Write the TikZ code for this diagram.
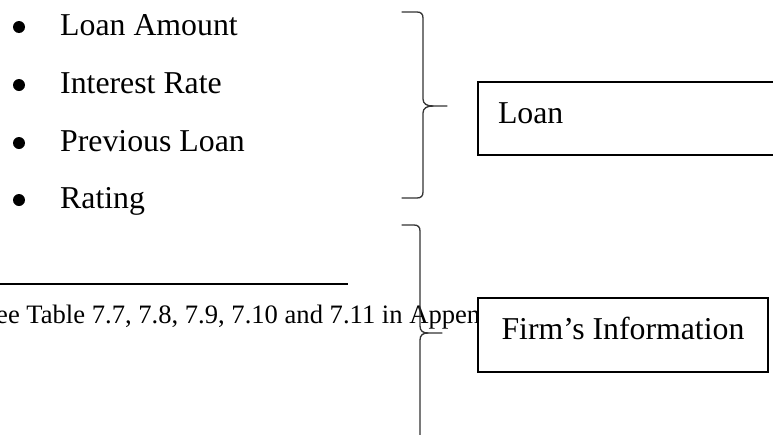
\documentclass[tikz,border=0pt]{standalone}
\usepackage{fontspec}
\setmainfont{Liberation Serif}
\begin{document}
\begin{tikzpicture}[x=1pt,y=-1pt,
  bodytext/.style={font=\fontsize{31.8}{38}\selectfont, inner sep=0pt, anchor=base west},
  notetext/.style={font=\fontsize{26.6}{32}\selectfont, inner sep=0pt, anchor=base west},
  bulletdot/.style={fill=black, draw=none},
  bracepen/.style={draw=black!80, line width=1.3pt, line cap=round, line join=round},
  labelbox/.style={draw=black, fill=white, line width=2pt, rectangle, inner ysep=0pt,
    font=\fontsize{31.8}{38}\selectfont, text height=21pt}
]
\useasboundingbox (0,0) rectangle (773,434);

% bulleted list of loan variables
\foreach \yb/\name/\txt in {35/amount/Loan Amount, 93/rate/Interest Rate, 151/prev/Previous Loan, 208/rating/Rating}{
  \fill[bulletdot] (19,\yb-8) circle (6);
  \node[bodytext] (\name) at (60,\yb) {\txt};
}

% footnote separator and footnote line
\draw[line width=1.6pt] (0,284) coordinate (rulestart) -- (348,284) coordinate (ruleend);
\node[notetext] (note) at (-4,323) {ee Table 7.7, 7.8, 7.9, 7.10 and 7.11 in Appen};

% brace grouping the list
\coordinate (b1tip) at (447,106);
\draw[bracepen] (402,12) -- (417,12) .. controls (421,12) and (423,14) .. (423,18)
  -- (423,99) .. controls (423,104) and (427,106) .. (433,106) -- (b1tip);
\draw[bracepen] (433,106) .. controls (427,106) and (423,108) .. (423,113)
  -- (423,192) .. controls (423,196) and (421,198) .. (417,198) -- (402,198);

% brace grouping the firm variables
\coordinate (b2tip) at (442,333);
\draw[bracepen] (402,225) -- (414,225) .. controls (418,225) and (420,227) .. (420,231)
  -- (420,326) .. controls (420,331) and (423,333) .. (428,333) -- (b2tip);
\draw[bracepen] (428,333) .. controls (423,333) and (420,335) .. (420,340) -- (420,438);

% category boxes
\node[labelbox, anchor=north west, minimum width=310pt, minimum height=73pt,
      text depth=12pt, inner xsep=20pt, text width=270pt, align=left]
  (loan) at (477,81) {Loan};
\node[labelbox, anchor=north west, minimum width=290pt, minimum height=74pt,
      text depth=13pt, inner xsep=0pt]
  (firm) at (477,297) {Firm’s Information};
\end{tikzpicture}
\end{document}
